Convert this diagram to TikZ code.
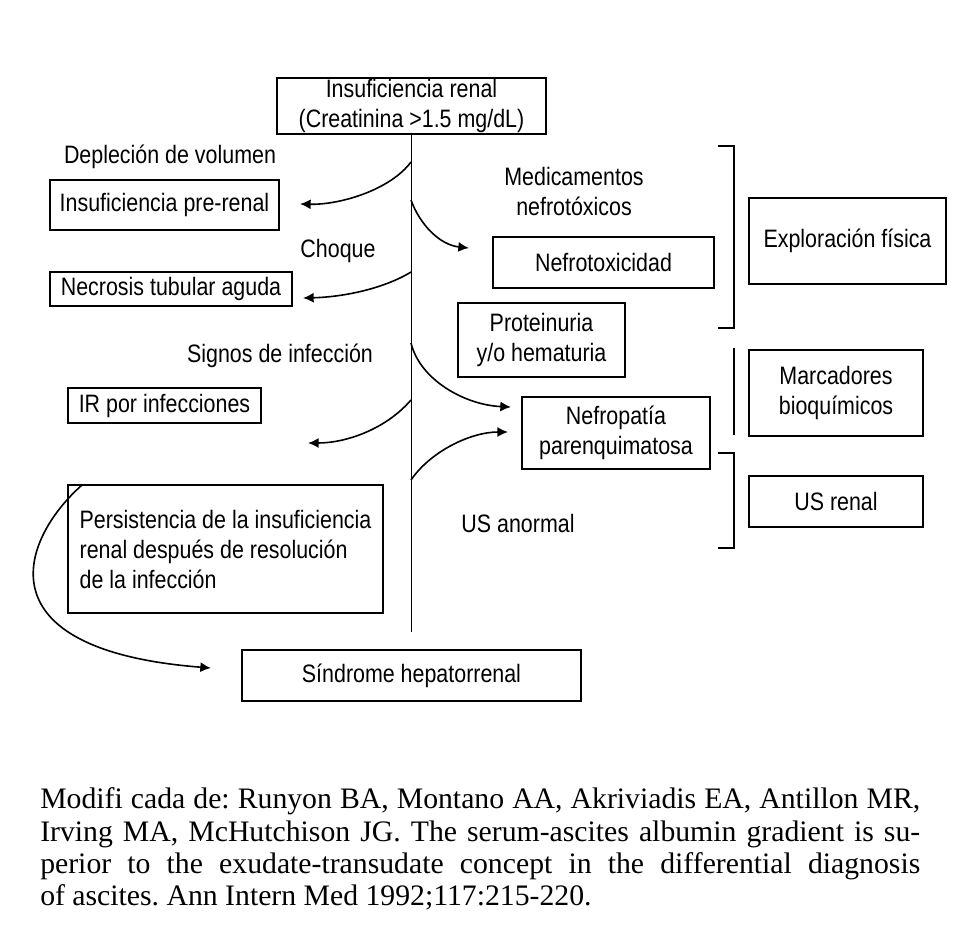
\documentclass[tikz,border=0pt]{standalone}
\usepackage{fontspec}
\setmainfont{Liberation Serif}
\newfontfamily\cond[FakeStretch=0.85]{Liberation Sans}
\usetikzlibrary{arrows.meta}
\frenchspacing
\begin{document}
\begin{tikzpicture}[x=0.75pt,y=-0.75pt,
  lbl/.style={font=\cond\fontsize{18.9}{22.5}\selectfont, inner sep=0pt},
  box/.style={lbl, draw, line width=1.2pt, align=center},
  arr/.style={line width=1.2pt, -{Latex[length=8pt,width=7.5pt]}},
  ln/.style={line width=1.2pt},
  refline/.style={font=\fontsize{22.3}{24.4}\selectfont, anchor=base west, inner sep=0pt}]
\useasboundingbox[fill=white] (0,0) rectangle (977,945);
% boxes
\node[box, minimum width=201.75pt, minimum height=42pt] (top) at (411.5,106) {Insuficiencia renal\\(Creatinina >1.5 mg/dL)};
\node[box, minimum width=171.75pt, minimum height=37.5pt] (pre) at (164.5,205) {Insuficiencia pre-renal};
\node[box, minimum width=181.5pt, minimum height=25.5pt] (nta) at (171,289) {Necrosis tubular aguda};
\node[box, minimum width=144.75pt, minimum height=26.25pt] (irinf) at (164.5,405.5) {IR por infecciones};
\node[box, align=left, minimum width=236.25pt, minimum height=96pt] (pers) at (225.5,549) {Persistencia de la insuficiencia\\renal después de resolución\\de la infección};
\node[box, minimum width=254.25pt, minimum height=38.25pt] (shr) at (411.5,675.5) {Síndrome hepatorrenal};
\node[box, minimum width=165.75pt, minimum height=38.25pt] (nefrotox) at (603.5,262.5) {Nefrotoxicidad};
\node[box, minimum width=125.25pt, minimum height=55.5pt] (prot) at (541.5,340) {Proteinuria\\y/o hematuria};
\node[box, minimum width=141pt, minimum height=54pt] (nefrop) at (616,433) {Nefropatía\\parenquimatosa};
\node[box, minimum width=147.75pt, minimum height=64.5pt] (expl) at (847.5,241) {Exploración física};
\node[box, minimum width=130.5pt, minimum height=64.5pt] (marc) at (836,393) {Marcadores\\bioquímicos};
\node[box, minimum width=130.5pt, minimum height=38.25pt] (usr) at (836,501.5) {US renal};
% labels
\node[lbl, anchor=base] (depl) at (170,164) {Depleción de volumen};
\node[lbl, align=center] (med) at (574,191) {Medicamentos\\nefrotóxicos};
\node[lbl, anchor=base] (choq) at (338,257) {Choque};
\node[lbl, anchor=base] (sig) at (280,362) {Signos de infección};
\node[lbl, anchor=base] (usan) at (518,532) {US anormal};
% main vertical line
\coordinate (vbot) at (411.5,632);
\draw[ln] (top.south) -- (vbot);
% arrows
\coordinate (a1s) at (411,162); \coordinate (a1e) at (300,204);
\coordinate (a2s) at (411,200); \coordinate (a2e) at (469,248);
\coordinate (a3s) at (411,272); \coordinate (a3e) at (303,298);
\coordinate (a4s) at (411,343); \coordinate (a4e) at (511,407);
\coordinate (a5s) at (411,400); \coordinate (a5e) at (308,443);
\coordinate (a6s) at (411,480); \coordinate (a6e) at (508,432);
\coordinate (a7s) at (82,485);  \coordinate (a7e) at (211,668);
\draw[arr] (a1s) .. controls +(-21,28) and +(40,1) .. (a1e);
\draw[arr] (a2s) .. controls +(9,25) and +(-29,-3) .. (a2e);
\draw[arr] (a3s) .. controls +(-26,16) and +(42,-1) .. (a3e);
\draw[arr] (a4s) .. controls +(9,37) and +(-46,-2) .. (a4e);
\draw[arr] (a5s) .. controls +(-26,30) and +(37,0) .. (a5e);
\draw[arr] (a6s) .. controls +(19,-28) and +(-38,0) .. (a6e);
\draw[arr] (a7s) .. controls +(-62,55) and +(-231,-18) .. (a7e);
% brackets
\coordinate (b1a) at (718,146); \coordinate (b1b) at (734,146);
\coordinate (b1c) at (734,328); \coordinate (b1d) at (718,328);
\coordinate (b2a) at (734,348); \coordinate (b2b) at (734,435);
\coordinate (b3a) at (718,453); \coordinate (b3b) at (734,453);
\coordinate (b3c) at (734,548); \coordinate (b3d) at (718,548);
\draw[ln] (b1a) -- (b1b) -- (b1c) -- (b1d);
\draw[ln] (b2a) -- (b2b);
\draw[ln] (b3a) -- (b3b) -- (b3c) -- (b3d);
% reference
\node[refline] (r1) at (40,808) {\makebox[660pt][s]{Modifi cada de: Runyon BA, Montano AA, Akriviadis EA, Antillon MR,}};
\node[refline] (r2) at (40,841) {\makebox[660pt][s]{Irving MA, McHutchison JG. The serum-ascites albumin gradient is su-}};
\node[refline] (r3) at (40,873) {\makebox[660pt][s]{perior to the exudate-transudate concept in the differential diagnosis}};
\node[refline] (r4) at (40,905) {of ascites. Ann Intern Med 1992;117:215-220.};
\end{tikzpicture}
\end{document}
